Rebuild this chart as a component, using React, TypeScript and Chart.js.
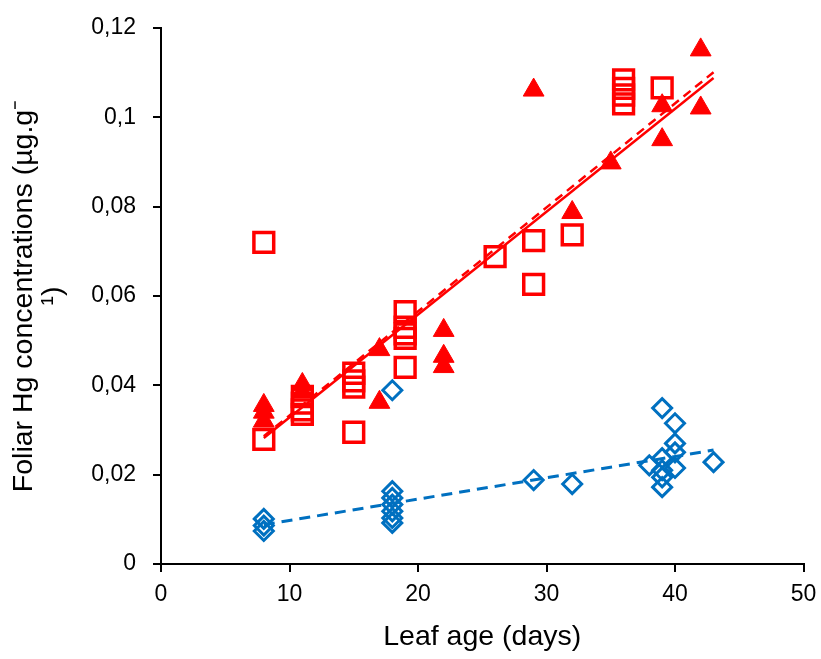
import React, { useEffect, useRef } from "react";
import { Chart, registerables } from "chart.js";
Chart.register(...registerables);

// Red filled triangles
const triangleX = [8, 8, 8, 11, 11, 17, 17, 22, 22, 22, 29, 32, 35, 39, 39, 42, 42];
const triangleY = [0.0355, 0.034, 0.032, 0.0402, 0.0385, 0.048, 0.0362, 0.0523, 0.0465, 0.0442, 0.1061, 0.0787, 0.0898, 0.1026, 0.095, 0.1151, 0.1021];

// Red open squares
const squareX = [8, 8, 11, 11, 11, 11, 15, 15, 15, 15, 19, 19, 19, 19, 19, 26, 29, 29, 32, 36, 36, 36, 36, 39];
const squareY = [0.072, 0.0279, 0.0375, 0.036, 0.0345, 0.0335, 0.0427, 0.041, 0.0396, 0.0295, 0.0565, 0.053, 0.0515, 0.0505, 0.044, 0.0688, 0.0724, 0.0626, 0.0737, 0.1084, 0.1065, 0.105, 0.103, 0.1066];

// Blue open diamonds
const diamondX = [8, 8, 8, 18, 18, 18, 18, 18, 18, 18, 29, 32, 38, 39, 39, 39, 39, 39, 40, 40, 40, 40, 43];
const diamondY = [0.0101, 0.0086, 0.0074, 0.0163, 0.0148, 0.0133, 0.0118, 0.0103, 0.0092, 0.0389, 0.0188, 0.0179, 0.0221, 0.0349, 0.0237, 0.021, 0.0194, 0.0172, 0.0315, 0.027, 0.025, 0.0215, 0.0228];

// Trend lines (end points)
const redSolidX = [8, 43];
const redSolidY = [0.0282, 0.1088];
const redDashX = [8, 43];
const redDashY = [0.0286, 0.1101];
const blueDashX = [8, 43];
const blueDashY = [0.0088, 0.0255];

const xTicks = [0, 10, 20, 30, 40, 50];
const yTicks = [0, 0.02, 0.04, 0.06, 0.08, 0.1, 0.12];

const RED = "#FF0000";
const BLUE = "#0070C0";
const FONT = "'Liberation Sans', Arial, sans-serif";

const pts = (xs: number[], ys: number[]) => xs.map((x, i) => ({ x, y: ys[i] }));

export default function App() {
  const ref = useRef<HTMLCanvasElement | null>(null);
  useEffect(() => {
    if (!ref.current) return;
    const chart = new Chart(ref.current, {
      type: "scatter",
      data: {
        datasets: [
          {
            type: "line",
            data: pts(redSolidX, redSolidY),
            borderColor: RED,
            borderWidth: 2.5,
            pointRadius: 0,
            fill: false,
            order: 1,
          } as any,
          {
            type: "line",
            data: pts(redDashX, redDashY),
            borderColor: RED,
            borderWidth: 2.5,
            borderDash: [9, 6],
            pointRadius: 0,
            fill: false,
            order: 1,
          } as any,
          {
            type: "line",
            data: pts(blueDashX, blueDashY),
            borderColor: BLUE,
            borderWidth: 3,
            borderDash: [11, 7],
            pointRadius: 0,
            fill: false,
            order: 1,
          } as any,
          {
            data: pts(triangleX, triangleY),
            pointStyle: "triangle",
            pointRadius: 12,
            backgroundColor: RED,
            borderColor: RED,
            borderWidth: 1,
            order: 2,
          },
          {
            data: pts(squareX, squareY),
            pointStyle: "rect",
            pointRadius: 14,
            backgroundColor: "rgba(255,255,255,0)",
            borderColor: RED,
            borderWidth: 3.5,
            order: 3,
          },
          {
            data: pts(diamondX, diamondY),
            pointStyle: "rectRot",
            pointRadius: 9.5,
            backgroundColor: "rgba(255,255,255,0)",
            borderColor: BLUE,
            borderWidth: 3,
            order: 4,
          },
        ],
      },
      options: {
        responsive: false,
        animation: false,
        events: [],
        layout: { padding: { top: 28, right: 12, left: 0, bottom: 0 } },
        plugins: { legend: { display: false }, tooltip: { enabled: false } },
        scales: {
          x: {
            type: "linear",
            min: 0,
            max: 50,
            afterBuildTicks: (s: any) => {
              s.ticks = xTicks.map((v) => ({ value: v }));
            },
            afterFit: (s: any) => {
              s.height = 95;
              s.paddingRight = 0;
              s.paddingLeft = 0;
            },
            ticks: {
              color: "#000",
              font: { family: FONT, size: 23 },
              padding: 9,
              maxRotation: 0,
            },
            grid: {
              drawOnChartArea: false,
              drawTicks: true,
              tickLength: 8,
              color: "#000",
              lineWidth: 2,
            },
            border: { display: true, color: "#000", width: 2 },
            title: {
              display: true,
              text: "Leaf age (days)",
              color: "#000",
              font: { family: FONT, size: 28.5 },
              padding: { top: 0, bottom: 5 },
            },
          },
          y: {
            type: "linear",
            min: 0,
            max: 0.12,
            afterBuildTicks: (s: any) => {
              s.ticks = yTicks.map((v) => ({ value: v }));
            },
            afterFit: (s: any) => {
              s.width = 161;
              s.paddingTop = 0;
              s.paddingBottom = 0;
            },
            ticks: {
              color: "#000",
              font: { family: FONT, size: 23 },
              padding: 17,
              callback: (v: any) => Number(Number(v).toFixed(2)).toString().replace(".", ","),
            },
            grid: {
              drawOnChartArea: false,
              drawTicks: true,
              tickLength: 8,
              color: "#000",
              lineWidth: 2,
            },
            border: { display: true, color: "#000", width: 2 },
            title: {
              display: true,
              text: ["Foliar Hg concentrations (µg.g\u207B", "\u00B9)"],
              color: "#000",
              font: { family: FONT, size: 28.5, lineHeight: 1.0 },
              padding: { top: 10, bottom: 0 },
            },
          },
        },
      } as any,
    });
    return () => chart.destroy();
  }, []);
  return (
    <div style={{ position: "absolute", left: 0, top: 0, width: 821, height: 659, background: "#fff" }}>
      <canvas ref={ref} width={821} height={659} style={{ width: 821, height: 659, display: "block" }} />
    </div>
  );
}
